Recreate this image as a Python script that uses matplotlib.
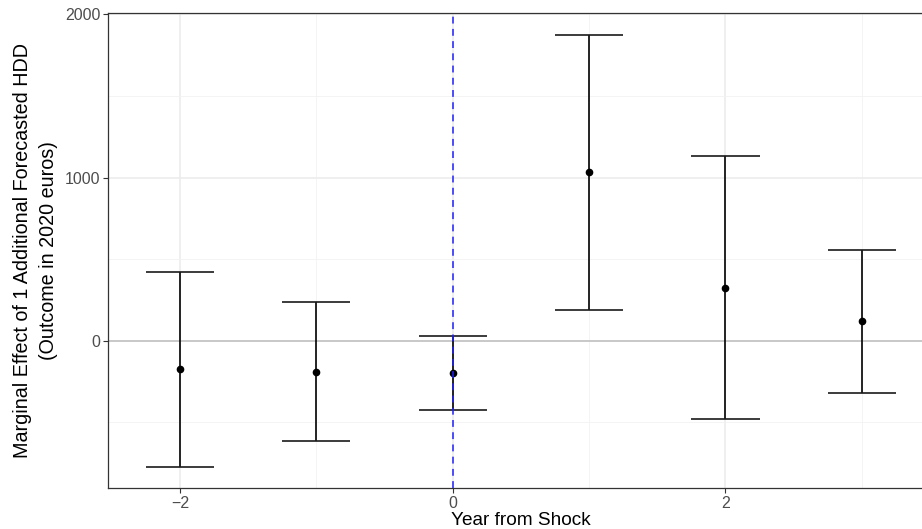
import numpy as np
import matplotlib.pyplot as plt
from matplotlib.ticker import MultipleLocator

plt.rcParams['font.family'] = ['Liberation Sans', 'DejaVu Sans']

# event-study estimates
years = [-2, -1, 0, 1, 2, 3]
estimate = [-173, -190, -198, 1031, 326, 120]
ci_low = [-772, -612, -424, 188, -479, -318]
ci_high = [423, 235, 31, 1876, 1134, 558]
shock_year = 0

W, H = 922, 529
fig = plt.figure(figsize=(W / 100, H / 100), dpi=100)

# panel box in pixels; right side runs past the canvas like the original crop
left, right, top, bottom = 108.3, 933.5, 13.0, 488.3
ax = fig.add_axes([left / W, 1 - bottom / H, (right - left) / W, (bottom - top) / H])

cap = 0.25
xlo, xhi = min(years) - cap, max(years) + cap
ylo, yhi = min(ci_low), max(ci_high)
ax.set_xlim(xlo - 0.05 * (xhi - xlo), xhi + 0.05 * (xhi - xlo))
ax.set_ylim(ylo - 0.05 * (yhi - ylo), yhi + 0.05 * (yhi - ylo))

ax.xaxis.set_major_locator(MultipleLocator(2))
ax.xaxis.set_minor_locator(MultipleLocator(1))
ax.yaxis.set_major_locator(MultipleLocator(1000))
ax.yaxis.set_minor_locator(MultipleLocator(500))
ax.grid(True, which='major', color='#EBEBEB', lw=1.1, zorder=0)
ax.grid(True, which='minor', color='#F2F2F2', lw=0.6, zorder=0)
ax.set_axisbelow(True)
ax.tick_params(which='minor', length=0)
ax.tick_params(which='major', length=3.5, width=0.8, color='#333333',
               labelsize=11.5, labelcolor='#4D4D4D', pad=2)
fmt = plt.FuncFormatter(lambda v, p: f"{int(v)}".replace('-', '\u2212'))
ax.xaxis.set_major_formatter(fmt)
ax.yaxis.set_major_formatter(fmt)

for s in ['left', 'bottom', 'top', 'right']:
    ax.spines[s].set_color('#333333')
    ax.spines[s].set_linewidth(0.9)

ax.axhline(0, color='#BEBEBE', lw=1.1, zorder=1)

for x, lo, hi in zip(years, ci_low, ci_high):
    ax.vlines(x, lo, hi, color='black', lw=1.2, zorder=2)
    ax.hlines([lo, hi], x - cap, x + cap, color='#1a1a1a', lw=1.2, zorder=2)
ax.plot(years, estimate, 'o', color='black', ms=4.5, zorder=3)

ax.axvline(shock_year, color='#2020FF', lw=1.1, ls=(0, (4.5, 3.5)), zorder=4)

ax.set_xlabel('Year from Shock', fontsize=13.7, labelpad=1)
ax.set_ylabel('Marginal Effect of 1 Additional Forecasted HDD\n(Outcome in 2020 euros)',
              fontsize=14.2, labelpad=5, linespacing=1.45)

fig.savefig('out.png', dpi=100)
